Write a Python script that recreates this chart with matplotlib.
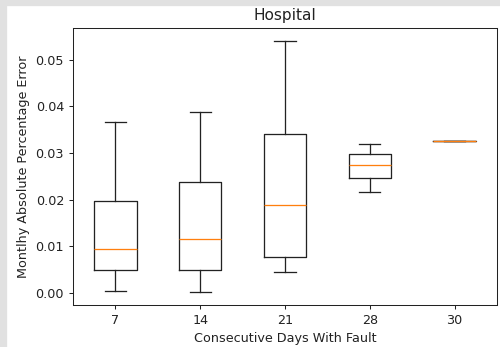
import matplotlib
matplotlib.use("Agg")
import matplotlib.pyplot as plt
from matplotlib.patches import Rectangle

categories = ["7", "14", "21", "28", "30"]
whislo = [0.0004, 0.0001, 0.0045, 0.0217, 0.03257]
q1 = [0.0050, 0.0048, 0.0076, 0.02464, 0.03257]
med = [0.00943, 0.01163, 0.0189, 0.02735, 0.03257]
q3 = [0.0198, 0.0238, 0.0341, 0.02985, 0.03257]
whishi = [0.0366, 0.0388, 0.0541, 0.0320, 0.03257]

stats = [dict(label=c, whislo=a, q1=b, med=m, q3=d, whishi=e, fliers=[])
         for c, a, b, m, d, e in zip(categories, whislo, q1, med, q3, whishi)]

DPI = 92
fig = plt.figure(figsize=(500/DPI, 347/DPI), dpi=DPI)
ax = fig.add_axes([73/500, 42/347, 424/500, 277/347])
lc = "#222222"
ax.bxp(stats, showfliers=False,
       boxprops=dict(color=lc),
       whiskerprops=dict(color=lc),
       capprops=dict(color=lc),
       medianprops=dict(color="#ff7f0e"))
for s in ax.spines.values():
    s.set_color(lc)
ax.tick_params(colors=lc)
ax.set_title("Hospital", color=lc)
ax.set_xlabel("Consecutive Days With Fault", color=lc)
ax.set_ylabel("Montlhy Absolute Percentage Error", color=lc)

fig.patches.append(Rectangle((0, 0), 6/500, 1, transform=fig.transFigure,
                             color="#e1e1e1", zorder=-1))
fig.patches.append(Rectangle((0, 1 - 5/347), 1, 5/347, transform=fig.transFigure,
                             color="#e1e1e1", zorder=-1))
fig.savefig("out.png", dpi=DPI)
